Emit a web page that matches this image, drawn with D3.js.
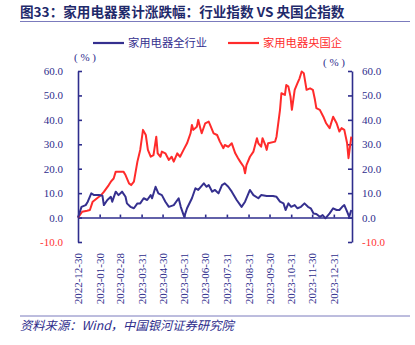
<!DOCTYPE html>
<html><head><meta charset="utf-8">
<script src="https://cdn.jsdelivr.net/npm/d3@7"></script>
<style>body{margin:0;background:#fff}svg{display:block}</style>
</head><body>
<svg id="c" width="415" height="345"></svg>
<script>
const title = "图33：家用电器累计涨跌幅：行业指数 VS 央国企指数";
const source = "资料来源：Wind，中国银河证券研究院";
const seriesNames = ["家用电器全行业", "家用电器央国企"];
const yTicks = [-10, 0, 10, 20, 30, 40, 50, 60];
const xTickLabels = ["2022-12-30","2023-01-30","2023-02-28","2023-03-31","2023-04-30","2023-05-31","2023-06-30","2023-07-31","2023-08-31","2023-09-30","2023-10-31","2023-11-30","2023-12-31"];
const xDomain = ["2022-12-30", "2024-01-26"];

const blueDates = ["2022-12-30","2023-01-04","2023-01-10","2023-01-13","2023-01-18","2023-01-22","2023-01-29","2023-02-03","2023-02-05","2023-02-10","2023-02-15","2023-02-17","2023-02-22","2023-02-26","2023-03-03","2023-03-08","2023-03-10","2023-03-15","2023-03-20","2023-03-25","2023-03-29","2023-04-03","2023-04-08","2023-04-13","2023-04-15","2023-04-20","2023-04-24","2023-04-29","2023-05-04","2023-05-09","2023-05-16","2023-05-23","2023-05-26","2023-05-31","2023-06-04","2023-06-11","2023-06-16","2023-06-20","2023-06-28","2023-07-02","2023-07-05","2023-07-10","2023-07-14","2023-07-19","2023-07-24","2023-07-28","2023-08-02","2023-08-07","2023-08-14","2023-08-21","2023-08-26","2023-09-02","2023-09-07","2023-09-14","2023-09-18","2023-09-26","2023-10-05","2023-10-10","2023-10-15","2023-10-20","2023-10-23","2023-10-27","2023-10-31","2023-11-05","2023-11-09","2023-11-14","2023-11-19","2023-11-24","2023-11-28","2023-12-02","2023-12-06","2023-12-11","2023-12-15","2023-12-19","2023-12-25","2023-12-30","2024-01-04","2024-01-08","2024-01-12","2024-01-15","2024-01-19","2024-01-22","2024-01-25"];
const blueValues = [0,4.4,5.1,6.5,9.9,9.2,9.2,8.9,5.1,7.2,8.5,6.5,10.6,9.2,10.6,8.5,5.8,4.4,3.8,5.8,5.8,7.9,7.2,9.2,7.9,12.6,9.9,9.2,6.5,4.4,5.1,7.9,4.4,0.3,3.8,7.9,12.0,11.3,14.0,12.6,13.3,10.6,11.3,9.9,13.3,14.0,12.6,10.6,7.2,4.4,6.5,11.3,9.2,7.9,9.2,8.8,8.8,8.5,6.5,5.8,3.1,5.8,4.4,5.1,3.8,4.4,5.8,4.4,3.8,1.7,1.5,0.3,1.0,-0.3,1.7,3.8,3.1,3.1,4.4,5.1,2.4,0.3,3.1];

const redDates = ["2022-12-30","2023-01-05","2023-01-12","2023-01-16","2023-01-20","2023-01-29","2023-02-01","2023-02-05","2023-02-12","2023-02-15","2023-02-19","2023-02-22","2023-03-01","2023-03-05","2023-03-08","2023-03-13","2023-03-16","2023-03-20","2023-03-25","2023-03-29","2023-04-02","2023-04-06","2023-04-09","2023-04-13","2023-04-17","2023-04-21","2023-04-23","2023-04-27","2023-04-29","2023-05-04","2023-05-09","2023-05-13","2023-05-16","2023-05-21","2023-05-25","2023-05-30","2023-06-04","2023-06-09","2023-06-11","2023-06-13","2023-06-18","2023-06-20","2023-06-23","2023-06-25","2023-06-30","2023-07-05","2023-07-07","2023-07-12","2023-07-17","2023-07-21","2023-07-26","2023-07-28","2023-08-02","2023-08-07","2023-08-12","2023-08-16","2023-08-19","2023-08-24","2023-08-26","2023-08-28","2023-09-02","2023-09-07","2023-09-12","2023-09-14","2023-09-18","2023-09-20","2023-09-24","2023-09-26","2023-09-28","2023-10-08","2023-10-10","2023-10-15","2023-10-17","2023-10-22","2023-10-24","2023-10-27","2023-10-30","2023-11-01","2023-11-05","2023-11-09","2023-11-12","2023-11-15","2023-11-18","2023-11-22","2023-11-27","2023-12-01","2023-12-04","2023-12-06","2023-12-11","2023-12-16","2023-12-20","2023-12-25","2023-12-30","2024-01-04","2024-01-08","2024-01-11","2024-01-15","2024-01-19","2024-01-21","2024-01-25"];
const redValues = [0,2.4,2.8,3.1,6.5,8.5,9.2,10.5,13.3,14.7,16.0,18.8,18.8,18.8,17.4,14.0,13.3,14.7,22.9,27.7,35.9,33.8,27.7,24.9,25.6,33.1,26.3,24.9,27.0,26.3,23.6,24.9,22.9,26.3,24.9,27.7,30.4,34.5,37.9,35.9,37.2,40.0,36.6,34.5,38.6,39.3,37.9,34.5,33.8,31.1,28.4,29.7,29.0,30.4,26.3,24.3,22.9,20.8,18.1,21.5,24.9,27.0,32.5,30.4,29.0,32.5,29.7,27.7,30.4,31.1,33.1,44.1,50.9,50.2,54.3,53.6,49.5,44.1,52.3,55.0,57.0,59.8,59.1,52.3,52.9,52.3,48.2,44.8,44.1,41.3,38.6,36.6,41.3,38.6,35.2,36.6,35.9,30.4,24.3,33.1];

const navy = "#2e2d8c";
const blueC = "#35308f";
const redC = "#ff2b2b";
const serif = "'Liberation Serif','Times New Roman',serif";
const cjk = "'Noto Sans CJK SC','Noto Sans',sans-serif";

const parse = d3.timeParse("%Y-%m-%d");
const svg = d3.select("#c");

const x = d3.scaleTime().domain(xDomain.map(parse)).range([78, 352]);
const y = d3.scaleLinear().domain([-10, 60]).range([242, 71]);

// title
svg.append("text").attr("x", 20).attr("y", 17).attr("font-family", cjk)
  .attr("font-size", 13.6).attr("font-weight", "bold").attr("fill", "#1f2a6b").text(title);
svg.append("line").attr("x1", 20).attr("x2", 410).attr("y1", 21.5).attr("y2", 21.5)
  .attr("stroke", "#7b7bbd").attr("stroke-width", 1);

// legend
const lg = [{n: seriesNames[0], c: blueC, x: 93}, {n: seriesNames[1], c: redC, x: 228}];
lg.forEach(d => {
  svg.append("line").attr("x1", d.x).attr("x2", d.x + 31).attr("y1", 43).attr("y2", 43)
    .attr("stroke", d.c).attr("stroke-width", 2.2);
  svg.append("text").attr("x", d.x + 35).attr("y", 47).attr("font-family", cjk)
    .attr("font-size", 11.3).attr("fill", d.c).text(d.n);
});

// unit labels
svg.append("text").attr("x", 85).attr("y", 61).attr("text-anchor", "middle")
  .attr("font-family", serif).attr("font-size", 11).attr("fill", navy).text("( % )");
svg.append("text").attr("x", 334).attr("y", 66).attr("text-anchor", "middle")
  .attr("font-family", serif).attr("font-size", 11).attr("fill", navy).text("( % )");

// axes
const fmt = d => d.toFixed(1);
const styleAxis = g => {
  g.selectAll("path,line").attr("stroke", navy).attr("stroke-width", 1.6);
  g.selectAll("text").attr("font-family", serif).attr("font-size", 11)
    .attr("fill", d => d < 0 ? "#ff3333" : navy);
};
svg.append("g").attr("transform", "translate(78,0)")
  .call(d3.axisLeft(y).tickValues(yTicks).tickFormat(fmt).tickSize(-4).tickSizeOuter(0).tickPadding(15))
  .call(styleAxis);
svg.append("g").attr("transform", "translate(352,0)")
  .call(d3.axisRight(y).tickValues(yTicks).tickFormat(fmt).tickSize(-4).tickSizeOuter(0).tickPadding(10))
  .call(styleAxis);

const xa = svg.append("g").attr("transform", `translate(0,${y(0)})`)
  .call(d3.axisBottom(x).tickValues(xTickLabels.slice(1).map(parse)).tickSize(-3).tickSizeOuter(0).tickFormat(""));
xa.selectAll("path,line").attr("stroke", navy).attr("stroke-width", 1.6);

// rotated date labels
svg.append("g").selectAll("text").data(xTickLabels).join("text")
  .attr("transform", d => `translate(${x(parse(d)) + 4},253) rotate(-90)`)
  .attr("text-anchor", "end").attr("font-family", serif).attr("font-size", 11)
  .attr("fill", navy).text(d => d);

// lines
const line = d3.line().x(d => x(d[0])).y(d => y(d[1]));
const blue = blueDates.map((d, i) => [parse(d), blueValues[i]]);
const red = redDates.map((d, i) => [parse(d), redValues[i]]);
svg.append("path").datum(red).attr("d", line).attr("fill", "none")
  .attr("stroke", redC).attr("stroke-width", 2).attr("stroke-linejoin", "round");
svg.append("path").datum(blue).attr("d", line).attr("fill", "none")
  .attr("stroke", blueC).attr("stroke-width", 2).attr("stroke-linejoin", "round");

// source
svg.append("line").attr("x1", 20).attr("x2", 410).attr("y1", 316).attr("y2", 316)
  .attr("stroke", "#7b7bbd").attr("stroke-width", 1);
svg.append("text").attr("x", 20).attr("y", 330).attr("font-family", cjk)
  .attr("font-size", 12.3).attr("font-style", "italic").attr("fill", navy).text(source);
</script>
</body></html>
